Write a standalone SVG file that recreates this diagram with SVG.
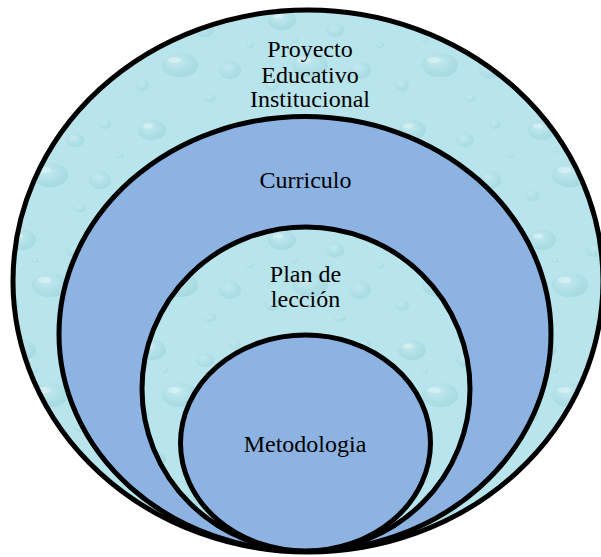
<svg xmlns="http://www.w3.org/2000/svg" width="601" height="557" viewBox="0 0 601 557">
<defs>
<radialGradient id="drop" cx="0.4" cy="0.35" r="0.7">
<stop offset="0" stop-color="#d3f1f4"/>
<stop offset="0.6" stop-color="#a3d8e0"/>
<stop offset="1" stop-color="#8ccbd6"/>
</radialGradient>
<pattern id="water" patternUnits="userSpaceOnUse" width="130" height="110">
<rect width="130" height="110" fill="#b8e4eb"/>
<ellipse cx="22" cy="20" rx="14" ry="10" fill="url(#drop)" opacity="0.45"/>
<ellipse cx="18" cy="16" rx="5" ry="2.5" fill="#ffffff" opacity="0.3"/>
<ellipse cx="75" cy="30" rx="9" ry="7" fill="url(#drop)" opacity="0.4"/>
<ellipse cx="105" cy="14" rx="6" ry="5" fill="url(#drop)" opacity="0.35"/>
<ellipse cx="50" cy="65" rx="18" ry="12" fill="url(#drop)" opacity="0.45"/>
<ellipse cx="44" cy="60" rx="7" ry="3" fill="#ffffff" opacity="0.3"/>
<ellipse cx="100" cy="70" rx="11" ry="9" fill="url(#drop)" opacity="0.4"/>
<ellipse cx="12" cy="85" rx="7" ry="6" fill="url(#drop)" opacity="0.35"/>
<ellipse cx="80" cy="98" rx="6" ry="4" fill="url(#drop)" opacity="0.35"/>
<ellipse cx="120" cy="45" rx="4" ry="3" fill="url(#drop)" opacity="0.35"/>
<ellipse cx="35" cy="40" rx="3" ry="3" fill="url(#drop)" opacity="0.35"/>
</pattern>
<style>
.ring{stroke:#000;stroke-width:5}
.tex{fill:url(#water)}
.blue{fill:#8db3e2}
.lbl{font-family:"Liberation Serif","Times New Roman",serif;font-size:24px;fill:#000;text-anchor:middle}
</style>
</defs>
<rect width="601" height="557" fill="#ffffff"/>
<g id="proyecto">
<ellipse class="ring tex" cx="308" cy="281" rx="295" ry="271"/>
<text class="lbl" x="310" y="57">Proyecto</text>
<text class="lbl" x="310" y="83">Educativo</text>
<text class="lbl" x="310" y="107">Institucional</text>
</g>
<g id="curriculo">
<ellipse class="ring blue" cx="305" cy="334" rx="246" ry="217.5"/>
<text class="lbl" x="305.5" y="188">Curriculo</text>
</g>
<g id="plan">
<ellipse class="ring tex" cx="306" cy="389" rx="164" ry="162"/>
<text class="lbl" x="305.5" y="282">Plan de</text>
<text class="lbl" x="305.5" y="307">lección</text>
</g>
<g id="metodologia">
<ellipse class="ring blue" cx="305.5" cy="443" rx="125" ry="108"/>
<text class="lbl" x="305" y="452">Metodologia</text>
</g>
</svg>
